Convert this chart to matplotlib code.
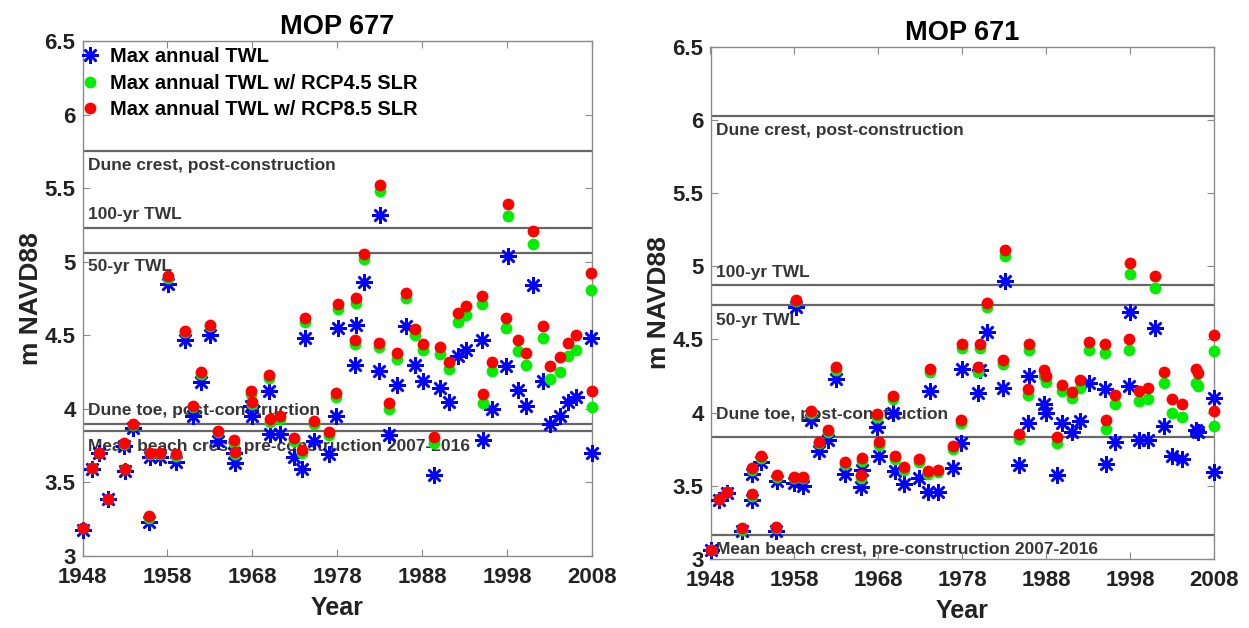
import matplotlib.pyplot as plt
import matplotlib.transforms as mtransforms

plt.rcParams["font.family"] = ["Liberation Sans", "DejaVu Sans"]
plt.rcParams["font.weight"] = "bold"

# ---- MOP 677 ----
years_677 = [1948.1, 1949.1, 1950.0, 1951.0, 1952.9, 1953.0, 1954.0, 1955.8, 1955.9, 1957.1,
             1958.1, 1959.0, 1960.1, 1961.0, 1962.0, 1963.0, 1964.0, 1965.8, 1966.0, 1967.9,
             1968.0, 1970.0, 1970.1, 1971.2, 1972.9, 1973.9, 1974.2, 1975.3, 1977.0, 1977.8,
             1978.1, 1980.1, 1980.2, 1981.1, 1982.9, 1983.0, 1984.1, 1985.0, 1986.1, 1987.2,
             1988.1, 1989.4, 1990.1, 1991.2, 1992.2, 1993.2, 1995.1, 1995.2, 1996.2, 1997.9,
             1998.1, 1999.3, 2000.2, 2001.1, 2002.2, 2003.1, 2004.2, 2005.2, 2006.1, 2007.9,
             2008.0]
twl_677 = [3.18, 3.59, 3.70, 3.39, 3.75, 3.58, 3.87, 3.23, 3.67, 3.67,
           4.85, 3.64, 4.47, 3.95, 4.18, 4.50, 3.78, 3.70, 3.63, 4.02,
           3.95, 4.12, 3.83, 3.83, 3.67, 3.59, 4.48, 3.78, 3.69, 3.95,
           4.55, 4.30, 4.57, 4.86, 4.26, 5.32, 3.82, 4.16, 4.56, 4.30,
           4.19, 3.55, 4.14, 4.05, 4.36, 4.40, 4.47, 3.79, 4.00, 4.29,
           5.04, 4.13, 4.02, 4.84, 4.19, 3.90, 3.95, 4.05, 4.08, 4.48,
           3.70]
rcp45_677 = [3.19, 3.60, 3.70, 3.39, 3.76, 3.59, 3.89, 3.26, 3.69, 3.69,
             4.89, 3.68, 4.52, 4.01, 4.24, 4.56, 3.84, 3.77, 3.69, 4.10,
             4.03, 4.21, 3.91, 3.93, 3.78, 3.70, 4.59, 3.90, 3.82, 4.08,
             4.68, 4.44, 4.72, 5.02, 4.42, 5.48, 4.00, 4.34, 4.75, 4.50,
             4.40, 3.77, 4.37, 4.27, 4.59, 4.64, 4.71, 4.04, 4.26, 4.55,
             5.31, 4.39, 4.30, 5.12, 4.48, 4.20, 4.25, 4.36, 4.40, 4.81,
             4.01]
rcp85_677 = [3.19, 3.60, 3.70, 3.39, 3.77, 3.59, 3.90, 3.27, 3.70, 3.70,
             4.90, 3.69, 4.53, 4.02, 4.25, 4.57, 3.85, 3.79, 3.71, 4.12,
             4.05, 4.23, 3.93, 3.95, 3.80, 3.72, 4.62, 3.92, 3.84, 4.11,
             4.71, 4.47, 4.75, 5.05, 4.45, 5.52, 4.04, 4.38, 4.79, 4.54,
             4.44, 3.81, 4.42, 4.32, 4.65, 4.70, 4.77, 4.10, 4.32, 4.62,
             5.39, 4.47, 4.38, 5.21, 4.56, 4.29, 4.35, 4.45, 4.50, 4.92,
             4.12]
ref_677 = [5.75, 5.23, 5.06, 3.90, 3.85]

# ---- MOP 671 ----
years_671 = [1948.1, 1949.0, 1950.0, 1951.7, 1952.9, 1953.0, 1954.0, 1955.8, 1955.9, 1957.9,
             1958.2, 1959.0, 1960.0, 1960.9, 1962.0, 1962.9, 1964.0, 1965.9, 1966.0, 1967.8,
             1968.1, 1969.8, 1970.0, 1971.1, 1972.9, 1973.9, 1974.1, 1975.1, 1976.9, 1977.8,
             1978.0, 1979.9, 1980.1, 1981.0, 1982.8, 1983.1, 1984.8, 1985.8, 1985.9, 1987.8,
             1988.0, 1989.3, 1989.9, 1991.1, 1992.0, 1993.1, 1995.0, 1995.1, 1996.2, 1997.9,
             1998.0, 1999.1, 2000.1, 2001.0, 2002.0, 2003.0, 2004.2, 2005.9, 2006.1, 2008.0,
             2008.0]
twl_671 = [3.06, 3.40, 3.45, 3.19, 3.58, 3.40, 3.66, 3.19, 3.53, 3.52,
           4.72, 3.50, 3.95, 3.74, 3.81, 4.23, 3.58, 3.49, 3.61, 3.90,
           3.70, 4.00, 3.60, 3.51, 3.55, 3.46, 4.15, 3.46, 3.62, 3.79,
           4.30, 4.13, 4.29, 4.55, 4.17, 4.90, 3.64, 3.93, 4.25, 4.06,
           4.00, 3.57, 3.93, 3.87, 3.94, 4.20, 4.16, 3.65, 3.80, 4.18,
           4.69, 3.81, 3.81, 4.58, 3.91, 3.70, 3.68, 3.88, 3.87, 4.10,
           3.59]
rcp45_671 = [3.06, 3.41, 3.46, 3.20, 3.61, 3.43, 3.69, 3.21, 3.56, 3.55,
             4.76, 3.55, 4.00, 3.79, 3.87, 4.29, 3.65, 3.55, 3.67, 3.97,
             3.78, 4.09, 3.68, 3.61, 3.66, 3.58, 4.28, 3.59, 3.75, 3.93,
             4.44, 4.28, 4.44, 4.72, 4.33, 5.07, 3.82, 4.12, 4.43, 4.25,
             4.21, 3.79, 4.15, 4.10, 4.17, 4.43, 4.41, 3.89, 4.06, 4.43,
             4.95, 4.08, 4.09, 4.85, 4.20, 4.00, 3.97, 4.20, 4.18, 4.42,
             3.91]
rcp85_671 = [3.06, 3.41, 3.46, 3.21, 3.62, 3.44, 3.70, 3.22, 3.57, 3.56,
             4.77, 3.56, 4.01, 3.80, 3.88, 4.31, 3.66, 3.57, 3.69, 3.99,
             3.80, 4.11, 3.70, 3.63, 3.68, 3.60, 4.30, 3.61, 3.77, 3.95,
             4.47, 4.31, 4.47, 4.75, 4.36, 5.11, 3.85, 4.16, 4.47, 4.29,
             4.25, 3.83, 4.19, 4.14, 4.22, 4.48, 4.47, 3.95, 4.12, 4.50,
             5.02, 4.15, 4.17, 4.93, 4.28, 4.09, 4.06, 4.30, 4.27, 4.53,
             4.01]
ref_671 = [6.03, 4.875, 4.735, 3.83, 3.16]

ref_labels = ["Dune crest, post-construction", "100-yr TWL", "50-yr TWL",
              "Dune toe, post-construction",
              "Mean beach crest, pre-construction 2007-2016"]

x_ticks = [1948, 1958, 1968, 1978, 1988, 1998, 2008]
y_ticks = [3, 3.5, 4, 4.5, 5, 5.5, 6, 6.5]
y_ticklabels = ["3", "3.5", "4", "4.5", "5", "5.5", "6", "6.5"]

SPINE = "#8a8a8a"
LINE = "#666666"
TXT = "#363636"


def draw_panel(ax, title, years, twl, rcp45, rcp85, refs, text_offsets, legend=False):
    trans = mtransforms.blended_transform_factory(ax.transAxes, ax.transData)
    for y, lab, dy in zip(refs, ref_labels, text_offsets):
        ax.axhline(y, color=LINE, lw=1.6, zorder=1)
        ax.annotate(lab, xy=(0.0, y), xycoords=trans,
                    xytext=(4, dy), textcoords="offset points",
                    va="center", ha="left",
                    fontsize=12.5, fontweight="bold", color=TXT, zorder=1)

    ax.plot(years, twl, linestyle="none", marker=(8, 2, 0), ms=12, mew=1.8,
            color="#0000ff", label="Max annual TWL", zorder=3, clip_on=False)
    ax.plot(years, rcp45, linestyle="none", marker="o", ms=8.5, mew=0,
            color="#00ee00", label="Max annual TWL w/ RCP4.5 SLR", zorder=4, clip_on=False)
    ax.plot(years, rcp85, linestyle="none", marker="o", ms=8.5, mew=0,
            color="#ff0000", label="Max annual TWL w/ RCP8.5 SLR", zorder=5, clip_on=False)

    ax.set_xlim(1948, 2008)
    ax.set_ylim(3, 6.5)
    ax.set_xticks(x_ticks)
    ax.set_yticks(y_ticks)
    ax.set_yticklabels(y_ticklabels)
    ax.tick_params(direction="in", top=True, right=True, length=5, width=0.8,
                   color=SPINE, labelsize=16, labelcolor="#222222")
    ax.tick_params(axis="x", pad=8)
    ax.tick_params(axis="y", pad=5)
    for lbl in ax.get_xticklabels() + ax.get_yticklabels():
        lbl.set_fontweight("bold")
    for sp in ax.spines.values():
        sp.set_color(SPINE)
        sp.set_linewidth(1.0)

    ax.set_title(title, fontsize=19.5, fontweight="bold", pad=5)
    ax.set_xlabel("Year", fontsize=18, fontweight="bold", color="#222222", labelpad=6)
    ax.set_ylabel("m NAVD88", fontsize=19, fontweight="bold", color="#222222", labelpad=1)

    if legend:
        ax.legend(loc="upper left", bbox_to_anchor=(-0.028, 1.012), frameon=False,
                  prop={"size": 14.5, "weight": "bold"}, handletextpad=0.45,
                  labelspacing=0.38, handlelength=1.0, borderaxespad=0.2)


fig = plt.figure(figsize=(12.49, 6.28), dpi=100)
ax1 = fig.add_axes([82.5 / 1249, 1 - 556 / 628, 509.5 / 1249, 515 / 628])
ax2 = fig.add_axes([710.5 / 1249, 1 - 558.8 / 628, 503.5 / 1249, 512 / 628])

draw_panel(ax1, "MOP 677", years_677, twl_677, rcp45_677, rcp85_677, ref_677,
           [-10, 9.5, -9.5, 9.5, -11], legend=True)
draw_panel(ax2, "MOP 671", years_671, twl_671, rcp45_671, rcp85_671, ref_671,
           [-11, 9, -11, 16.5, -10])

fig.savefig("out.png", dpi=100)
